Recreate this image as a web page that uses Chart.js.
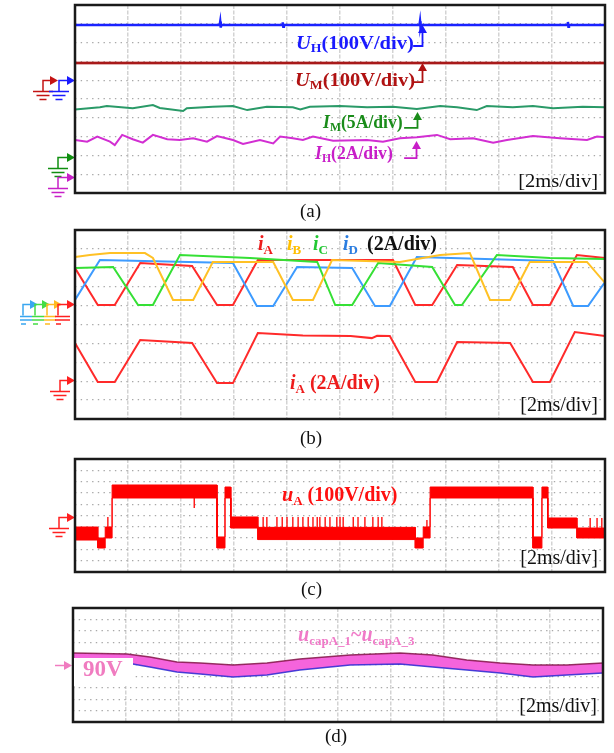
<!DOCTYPE html>
<html><head><meta charset="utf-8">
<script src="https://cdn.jsdelivr.net/npm/chart.js@4.4.1/dist/chart.umd.min.js"></script>
<style>
html,body{margin:0;padding:0;background:#fff;}
body{width:614px;height:753px;position:relative;overflow:hidden;font-family:"Liberation Serif","Times New Roman",serif;}
canvas{position:absolute;left:0;}
.lbl{position:absolute;white-space:nowrap;font-weight:bold;font-size:20px;line-height:20px;transform-origin:0 50%;}
.lbl i{font-style:italic;}
.lbl .s{font-size:13px;position:relative;top:4px;font-style:normal;}
.a18{font-size:18px;line-height:18px;}
.a18 .s{font-size:12px;top:3px;}
.dv{position:absolute;white-space:nowrap;font-size:20px;line-height:20px;color:#111;transform-origin:100% 50%;}
.cap{position:absolute;font-size:19px;line-height:19px;color:#111;}
.box{position:absolute;background:#fff;}
</style></head><body>
<canvas id="ca" width="614" height="202" style="top:0px"></canvas>
<canvas id="cb" width="614" height="205" style="top:222px"></canvas>
<canvas id="cc" width="614" height="128" style="top:452px"></canvas>
<canvas id="cd" width="614" height="130" style="top:600px"></canvas>

<!-- panel (a) labels -->
<div class="lbl a18" style="left:296px;top:34px;color:#1a1aff;transform:scaleX(1.14)"><i>U</i><span class="s">H</span>(100V/div)</div>
<div class="lbl a18" style="left:295px;top:71px;color:#b01212;transform:scaleX(1.14)"><i>U</i><span class="s">M</span>(100V/div)</div>
<div class="lbl a18" style="left:323px;top:113px;color:#1a8c1a;transform:scaleX(0.98)"><i>I</i><span class="s">M</span>(5A/div)</div>
<div class="lbl a18" style="left:315px;top:144px;color:#c81ec8;transform:scaleX(0.98)"><i>I</i><span class="s">H</span>(2A/div)</div>
<div class="dv" style="right:16px;top:172px;font-size:18px;line-height:18px;transform:scaleX(1.14)">[2ms/div]</div>
<div class="cap" style="left:300px;top:201px">(a)</div>

<!-- panel (b) labels -->
<div class="lbl" style="left:258px;top:233px;color:#ee1c1c"><i>i</i><span class="s">A</span></div>
<div class="lbl" style="left:287px;top:233px;color:#ffbf00"><i>i</i><span class="s">B</span></div>
<div class="lbl" style="left:313px;top:233px;color:#22c833"><i>i</i><span class="s">C</span></div>
<div class="lbl" style="left:343px;top:233px;color:#2a7de1"><i>i</i><span class="s">D</span></div>
<div class="lbl" style="left:367px;top:233px;color:#111">(2A/div)</div>
<div class="lbl" style="left:290px;top:372px;color:#ee1c1c"><i>i</i><span class="s">A</span> (2A/div)</div>
<div class="dv" style="right:16px;top:394px">[2ms/div]</div>
<div class="cap" style="left:300px;top:428px">(b)</div>

<!-- panel (c) labels -->
<div class="lbl" style="left:282px;top:484px;color:#ff1010"><i>u</i><span class="s">A</span> (100V/div)</div>
<div class="dv" style="right:16px;top:547px">[2ms/div]</div>
<div class="cap" style="left:301px;top:579px">(c)</div>

<!-- panel (d) labels -->
<div class="lbl" style="left:298px;top:624px;color:#f07ac8"><i>u</i><span class="s">capA_1</span>~<i>u</i><span class="s">capA_3</span></div>
<div class="box" style="left:74px;top:658px;width:59px;height:28px"></div>
<div class="lbl" style="left:83px;top:657px;font-size:23px;line-height:23px;color:#f07cc0">90V</div>
<div class="dv" style="right:17px;top:695px">[2ms/div]</div>
<div class="cap" style="left:325px;top:726px">(d)</div>

<script>
// ===== Panel (a): x and y in oscilloscope divisions (10 x 10 grid) =====
const uH_x = [0, 2.73, 2.74, 2.75, 2.76, 3.91, 3.92, 3.93, 3.94, 6.50, 6.51, 6.52, 6.53, 9.29, 9.30, 9.31, 9.32, 10];
const uH_y = [8.94, 8.94, 9.12, 8.80, 8.94, 8.94, 9.08, 8.84, 8.94, 8.94, 9.14, 8.82, 8.94, 8.94, 9.10, 8.84, 8.94, 8.94];
const uM_x = [0, 2.5, 5, 7.5, 10];
const uM_y = [6.91, 6.91, 6.91, 6.91, 6.91];
const iM_x = [0, 0.47, 0.60, 1.09, 1.47, 1.60, 2.04, 2.11, 2.60, 2.98, 3.25, 3.62, 4.11, 4.25, 4.43, 5.0, 5.51, 6.0, 6.45, 6.89, 7.21, 7.58, 7.77, 8.26, 8.64, 9.02, 9.58, 10];
const iM_y = [4.44, 4.56, 4.63, 4.51, 4.68, 4.52, 4.36, 4.51, 4.59, 4.63, 4.41, 4.59, 4.56, 4.45, 4.59, 4.63, 4.56, 4.59, 4.47, 4.63, 4.56, 4.41, 4.63, 4.56, 4.63, 4.51, 4.59, 4.56];
const iH_x = [0, 0.23, 0.42, 0.66, 0.75, 0.89, 1.09, 1.28, 1.47, 1.74, 1.98, 2.23, 2.49, 2.68, 2.98, 3.17, 3.49, 3.74, 3.87, 4.11, 4.30, 4.49, 4.87, 5.51, 5.81, 6.13, 6.45, 6.83, 7.08, 7.51, 7.89, 8.15, 8.64, 9.15, 9.66, 9.85, 10];
const iH_y = [2.82, 2.73, 3.0, 2.73, 2.55, 3.09, 2.86, 2.68, 3.09, 2.86, 2.82, 2.91, 2.73, 3.03, 2.82, 2.61, 2.82, 2.64, 3.0, 2.91, 2.82, 3.0, 2.78, 2.82, 2.73, 2.91, 2.96, 3.09, 2.86, 2.91, 2.68, 2.82, 3.03, 2.91, 2.82, 3.0, 2.96];
const groundA = [6.01, 6.01, 1.91, 0.85]; // U_M, U_H, I_M, I_H reference levels

// ===== Panel (b): phase currents =====
const iA1_x = [0, 0.43, 0.75, 1.23, 2.21, 2.68, 2.98, 3.45, 6.00, 6.42, 6.74, 7.21, 8.26, 8.64, 8.96, 9.47, 10];
const iA1_y = [7.99, 6.03, 6.03, 8.25, 8.10, 6.03, 6.03, 8.41, 8.41, 6.03, 6.03, 8.15, 8.04, 6.03, 6.03, 8.68, 8.52];
const iB_x = [0, 0.28, 0.66, 1.32, 1.47, 1.85, 2.23, 2.60, 3.74, 4.11, 4.49, 4.85, 6.13, 6.89, 7.45, 7.83, 8.21, 8.58, 9.66, 10];
const iB_y = [8.57, 8.68, 8.78, 8.78, 8.52, 6.30, 6.30, 8.31, 8.31, 6.30, 6.30, 8.41, 8.31, 8.68, 8.78, 6.30, 6.30, 8.31, 8.31, 7.20];
const iC_x = [0, 0.72, 1.19, 1.47, 1.98, 3.30, 4.57, 4.91, 5.23, 5.72, 6.74, 7.17, 7.30, 7.96, 8.96, 10];
const iC_y = [7.99, 8.04, 6.03, 6.03, 8.68, 8.52, 8.31, 6.03, 6.03, 8.25, 8.04, 6.03, 6.03, 8.68, 8.52, 8.47];
const iD_x = [0, 0.47, 2.98, 3.43, 3.74, 4.19, 5.23, 5.66, 5.94, 6.45, 9.02, 9.40, 9.68, 10];
const iD_y = [6.30, 8.41, 8.25, 5.98, 5.98, 8.04, 7.99, 5.98, 5.98, 8.57, 8.36, 5.98, 5.98, 7.25];
const iA2_x = [0, 0.43, 0.75, 1.23, 2.21, 2.68, 2.98, 3.45, 4.30, 5.20, 5.60, 5.70, 5.94, 6.42, 6.83, 7.21, 8.21, 8.64, 8.96, 9.43, 10];
const iA2_y = [4.02, 1.96, 1.96, 4.18, 4.02, 1.90, 1.90, 4.55, 4.42, 4.39, 4.28, 4.40, 4.39, 1.96, 1.96, 4.07, 4.02, 1.96, 1.96, 4.60, 4.39];
const groundB = [6.08, 2.06];

// ===== Panel (c): phase voltage u_A (PWM band: upper / lower envelope) =====
const uA_x  = [0, 0.43, 0.43, 0.57, 0.57, 0.70, 0.70, 2.68, 2.68, 2.83, 2.83, 2.94, 2.94, 3.45, 3.45, 6.42, 6.42, 6.57, 6.57, 6.70, 6.70, 8.64, 8.64, 8.81, 8.81, 8.92, 8.92, 9.47, 9.47, 10];
const uA_hi = [3.98, 3.98, 3.01, 3.01, 3.98, 3.98, 7.70, 7.70, 3.10, 3.10, 7.52, 7.52, 4.87, 4.87, 3.95, 3.95, 3.01, 3.01, 3.98, 3.98, 7.52, 7.52, 3.10, 3.10, 7.52, 7.52, 4.78, 4.78, 3.89, 3.89];
const uA_lo = [2.83, 2.83, 2.12, 2.12, 3.01, 3.01, 6.55, 6.55, 2.12, 2.12, 6.55, 6.55, 3.89, 3.89, 2.87, 2.87, 2.12, 2.12, 3.01, 3.01, 6.55, 6.55, 2.12, 2.12, 6.55, 6.55, 3.89, 3.89, 3.01, 3.01];
const uAspike_x   = [0.62, 2.25, 3.55, 3.62, 3.81, 3.91, 4.00, 4.11, 4.21, 4.30, 4.40, 4.49, 4.57, 4.62, 4.72, 4.81, 4.94, 5.00, 5.06, 5.25, 5.34, 5.47, 5.62, 5.72, 5.79, 6.64, 9.72, 9.85, 9.94];
const uAspike_from= [3.98, 6.55, 3.95, 3.95, 3.95, 3.95, 3.95, 3.95, 3.95, 3.95, 3.95, 3.95, 3.95, 3.95, 3.95, 3.95, 3.95, 3.95, 3.95, 3.95, 3.95, 3.95, 3.95, 3.95, 3.95, 3.98, 3.89, 3.89, 3.89];
const uAspike_to  = [4.87, 5.66, 4.87, 4.87, 4.87, 4.87, 4.87, 4.87, 4.87, 4.87, 4.87, 4.87, 4.87, 4.87, 4.87, 4.87, 4.87, 4.87, 4.87, 4.87, 4.87, 4.87, 4.87, 4.87, 4.87, 4.60, 4.78, 4.78, 4.78];
const groundC = [4.87];

// ===== Panel (d): capacitor voltages band =====
const cap_x   = [0, 1.02, 1.45, 1.96, 2.40, 3.02, 3.66, 4.28, 5.23, 6.17, 6.79, 7.43, 8.06, 8.68, 9.32, 10];
const cap_top = [6.05, 5.96, 5.70, 5.26, 5.18, 5.00, 5.18, 5.53, 5.88, 6.05, 5.88, 5.44, 5.18, 5.00, 5.00, 5.18];
const cap_bot = [5.18, 5.18, 4.82, 4.39, 4.21, 3.95, 4.12, 4.56, 5.00, 5.09, 4.82, 4.56, 4.30, 3.95, 4.12, 4.30];
const levelD = [5.0]; // 90 V marker

// ---------------------------------------------------------------
const pts = (xs, ys) => xs.map((x, i) => ({x: x, y: ys[i]}));
function line(xs, ys, color, w, extra) {
  return Object.assign({data: pts(xs, ys), borderColor: color, backgroundColor: color, borderWidth: w,
    pointRadius: 0, tension: 0, fill: false}, extra || {});
}
function spikes(xs, a, b) {
  const out = [];
  xs.forEach((x, i) => { out.push({x: x, y: a[i]}, {x: x, y: b[i]}, {x: x, y: null}); });
  return out;
}

function drawArrowHead(ctx, x, y, dir, color) {
  ctx.fillStyle = color;
  ctx.beginPath();
  if (dir === 'right') { ctx.moveTo(x, y); ctx.lineTo(x - 8, y - 4.5); ctx.lineTo(x - 8, y + 4.5); }
  else { ctx.moveTo(x, y); ctx.lineTo(x - 4.5, y + 8); ctx.lineTo(x + 4.5, y + 8); }
  ctx.closePath(); ctx.fill();
}

const deco = {
  id: 'scopeDeco',
  afterDraw(chart, args, o) {
    const ctx = chart.ctx, a = chart.chartArea, xs = chart.scales.x, ys = chart.scales.y;
    ctx.save();
    ctx.lineCap = 'butt';
    // ground markers
    (o.markers || []).forEach(m => {
      const y = Math.round(ys.getPixelForValue(m.v)) + 0.5;
      const sx = a.left + m.stem, tx = a.left + m.tip;
      ctx.strokeStyle = m.color; ctx.lineWidth = 1.5;
      ctx.beginPath();
      if (m.noStem) { ctx.moveTo(sx, y); ctx.lineTo(tx - 6, y); }
      else { ctx.moveTo(sx, y + 11); ctx.lineTo(sx, y); ctx.lineTo(tx - 6, y); }
      ctx.stroke();
      drawArrowHead(ctx, tx, y, 'right', m.color);
      if (m.ground === 'full') {
        ctx.beginPath();
        ctx.moveTo(sx - 10, y + 11); ctx.lineTo(sx + 10, y + 11);
        ctx.moveTo(sx - 6.5, y + 15); ctx.lineTo(sx + 6.5, y + 15);
        ctx.moveTo(sx - 3.5, y + 19); ctx.lineTo(sx + 3.5, y + 19);
        ctx.stroke();
      } else if (m.ground === 'seg') {
        ctx.beginPath();
        ctx.moveTo(sx - 3, y + 12); ctx.lineTo(sx + m.seg, y + 12);
        ctx.moveTo(sx - 3, y + 15.5); ctx.lineTo(sx + m.seg, y + 15.5);
        ctx.moveTo(sx - 2, y + 19.5); ctx.lineTo(sx + 3, y + 19.5);
        ctx.stroke();
      }
    });
    // label pointer arrows
    (o.pointers || []).forEach(p => {
      const x0 = xs.getPixelForValue(p.x0), x1 = Math.round(xs.getPixelForValue(p.x1)) + 0.5;
      const yb = ys.getPixelForValue(p.vb), yt = ys.getPixelForValue(p.vt);
      ctx.strokeStyle = p.color; ctx.lineWidth = 1.8;
      ctx.beginPath(); ctx.moveTo(x0, yb); ctx.lineTo(x1, yb); ctx.lineTo(x1, yt + 6); ctx.stroke();
      drawArrowHead(ctx, x1, yt, 'up', p.color);
    });
    // frame
    ctx.strokeStyle = '#1a1a1a'; ctx.lineWidth = 2.5;
    ctx.strokeRect(a.left, a.top, a.right - a.left, a.bottom - a.top);
    ctx.restore();
  }
};
Chart.register(deco);

function options(pad, decoOpts) {
  return {
    responsive: false, animation: false, events: [],
    layout: {padding: pad},
    plugins: {legend: {display: false}, tooltip: {enabled: false}, filler: {drawTime: 'beforeDatasetsDraw'}, scopeDeco: decoOpts},
    scales: {
      x: {type: 'linear', min: 0, max: 10,
          ticks: {display: false, stepSize: 1},
          grid: {drawTicks: false, lineWidth: 1.5,
                 color: c => (c.tick && (c.tick.value === 0 || c.tick.value === 10)) ? 'rgba(0,0,0,0)' : '#d3d3d3'},
          border: {display: false, dash: [4, 1.5]}},
      y: {type: 'linear', min: 0, max: 10,
          ticks: {display: false, stepSize: 1},
          grid: {drawTicks: false, lineWidth: 1.3,
                 color: c => (c.tick && (c.tick.value === 0 || c.tick.value === 10)) ? 'rgba(0,0,0,0)' : '#a9a9a9'},
          border: {display: false, dash: [1.4, 4.3]}}
    }
  };
}

// Panel (a)
new Chart(document.getElementById('ca'), {
  type: 'line',
  data: {datasets: [
    line(iH_x, iH_y, '#d22ed2', 2),
    line(iM_x, iM_y, '#2a9a68', 2),
    line(uM_x, uM_y, 'rgba(176,30,30,0.35)', 4),
    line(uM_x, uM_y, '#a51818', 2),
    line(uH_x, uH_y, '#1a22ff', 2.5)
  ]},
  options: options({left: 75, right: 9, top: 5, bottom: 9}, {
    markers: [
      {v: groundA[0], stem: -32, tip: -17, color: '#c41414', ground: 'full'},
      {v: groundA[1], stem: -16, tip: 0, color: '#1a1aff', ground: 'full'},
      {v: groundA[2], stem: -17, tip: 0, color: '#109010', ground: 'full'},
      {v: groundA[3], stem: -17, tip: 0, color: '#c820c8', ground: 'full'}
    ],
    pointers: [
      {x0: 6.38, x1: 6.55, vb: 7.82, vt: 8.94, color: '#1a1aff'},
      {x0: 6.36, x1: 6.55, vb: 5.90, vt: 6.91, color: '#b01212'},
      {x0: 6.21, x1: 6.45, vb: 3.46, vt: 4.31, color: '#1a8c1a'},
      {x0: 6.21, x1: 6.43, vb: 1.86, vt: 2.77, color: '#c81ec8'}
    ]
  })
});

// Panel (b)
new Chart(document.getElementById('cb'), {
  type: 'line',
  data: {datasets: [
    line(iB_x, iB_y, '#ffc125', 2),
    line(iC_x, iC_y, '#35e035', 2),
    line(iD_x, iD_y, '#3d9bff', 2),
    line(iA1_x, iA1_y, '#ff2a2a', 2),
    line(iA2_x, iA2_y, '#ff2a2a', 2)
  ]},
  options: options({left: 75, right: 9, top: 8, bottom: 8}, {
    markers: [
      {v: groundB[0], stem: -52, tip: -37, color: '#3aa6f0', ground: 'seg', seg: 9},
      {v: groundB[0], stem: -40, tip: -25, color: '#44dd44', ground: 'seg', seg: 9},
      {v: groundB[0], stem: -28, tip: -13, color: '#ffbb22', ground: 'seg', seg: 9},
      {v: groundB[0], stem: -17, tip: 0, color: '#ff2020', ground: 'seg', seg: 12},
      {v: groundB[1], stem: -15, tip: 0, color: '#ff2020', ground: 'full'}
    ]
  })
});

// Panel (c)
new Chart(document.getElementById('cc'), {
  type: 'line',
  data: {datasets: [
    line(uA_x, uA_lo, '#ff0000', 1),
    line(uA_x, uA_hi, '#ff0000', 1, {fill: '-1', backgroundColor: '#ff0000'}),
    {data: spikes(uAspike_x, uAspike_from, uAspike_to), borderColor: '#ff1010', borderWidth: 1.4,
     pointRadius: 0, tension: 0, fill: false, spanGaps: false}
  ]},
  options: options({left: 75, right: 9, top: 7, bottom: 8}, {
    markers: [{v: groundC[0], stem: -16, tip: 0, color: '#ff2020', ground: 'full'}]
  })
});

// Panel (d)
new Chart(document.getElementById('cd'), {
  type: 'line',
  data: {datasets: [
    line(cap_x, cap_bot, 'rgba(40,40,210,0.85)', 1.5),
    line(cap_x, cap_top, 'rgba(130,20,70,0.85)', 1.5, {fill: '-1', backgroundColor: '#f564dc'})
  ]},
  options: options({left: 73, right: 11, top: 8, bottom: 8}, {
    markers: [{v: levelD[0], stem: -18, tip: -1, color: '#f07cc0', noStem: true, ground: 'none'}]
  })
});
</script>
</body></html>
